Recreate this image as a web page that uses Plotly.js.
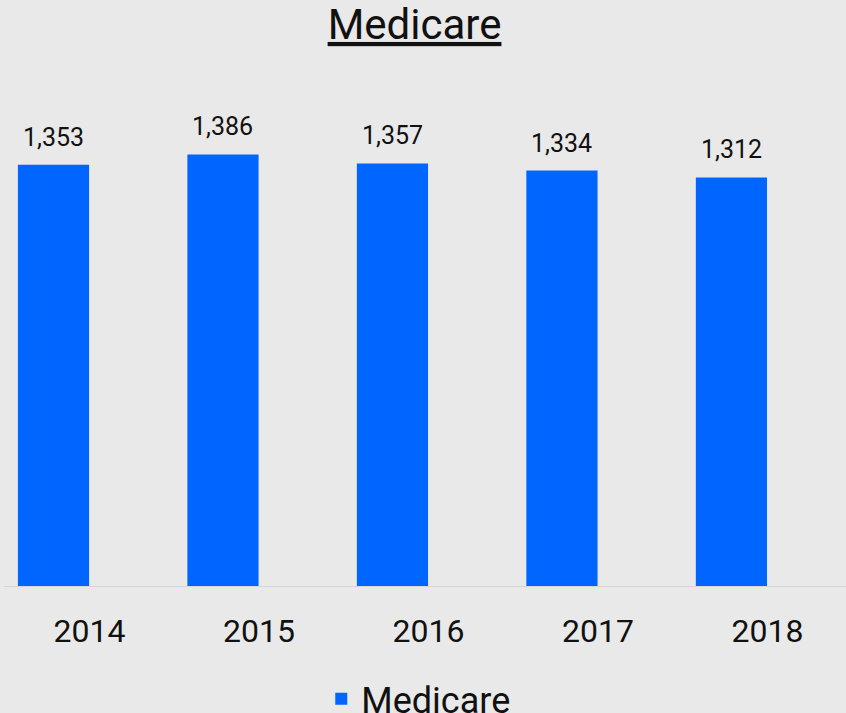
<!DOCTYPE html>
<html>
<head>
<meta charset="utf-8">
<script src="https://cdn.plot.ly/plotly-3.0.1.min.js"></script>
<style>
  html, body { margin: 0; padding: 0; background: #e9e9e9; }
  #chart { width: 846px; height: 713px; }
</style>
</head>
<body>
<div id="chart"></div>
<script>
// Medicare totals by year
var years = ['2014', '2015', '2016', '2017', '2018'];
var medicare = [1353, 1386, 1357, 1334, 1312];
var seriesName = 'Medicare';

var barColor = '#0066ff';
var fontFamily = 'Roboto, Liberation Sans, sans-serif';

function fmt(v) {
  return String(v).replace(/\B(?=(\d{3})+(?!\d))/g, ',');
}

var data = [{
  type: 'bar',
  x: years,
  y: medicare,
  name: seriesName,
  marker: { color: barColor },
  hoverinfo: 'x+y'
}];

// value labels above each bar
var labels = [];
for (var i = 0; i < years.length; i++) {
  labels.push({
    xref: 'x',
    yref: 'y',
    x: i,
    y: medicare[i],
    text: fmt(medicare[i]),
    showarrow: false,
    xanchor: 'center',
    yanchor: 'bottom',
    yshift: 11,
    font: { size: 25, color: '#111111' }
  });
}

var layout = {
  width: 846,
  height: 713,
  paper_bgcolor: '#e9e9e9',
  plot_bgcolor: '#e9e9e9',
  margin: { l: 4, r: 0, t: 80, b: 127 },
  font: { family: fontFamily, color: '#111111' },
  title: {
    text: 'Medicare',
    font: { size: 42, color: '#111111', lineposition: 'under' },
    x: 0.49,
    xanchor: 'center',
    yref: 'container',
    y: 0.966,
    yanchor: 'middle'
  },
  bargap: 0.58,
  xaxis: {
    type: 'category',
    range: [-0.292, 4.676],
    showgrid: false,
    zeroline: false,
    showline: true,
    linecolor: '#d6d6d6',
    linewidth: 1,
    ticks: '',
    ticklabelshift: 36,
    ticklabelstandoff: 17,
    tickfont: { size: 32, color: '#111111' },
    fixedrange: true
  },
  yaxis: {
    visible: false,
    range: [0, 1625],
    fixedrange: true
  },
  showlegend: true,
  legend: {
    orientation: 'h',
    x: 0.492,
    xanchor: 'center',
    yref: 'container',
    y: 0.062,
    yanchor: 'top',
    bgcolor: 'rgba(0,0,0,0)',
    font: { size: 36, color: '#111111' }
  },
  annotations: labels
};

Plotly.newPlot('chart', data, layout, { displayModeBar: false });
</script>
</body>
</html>
